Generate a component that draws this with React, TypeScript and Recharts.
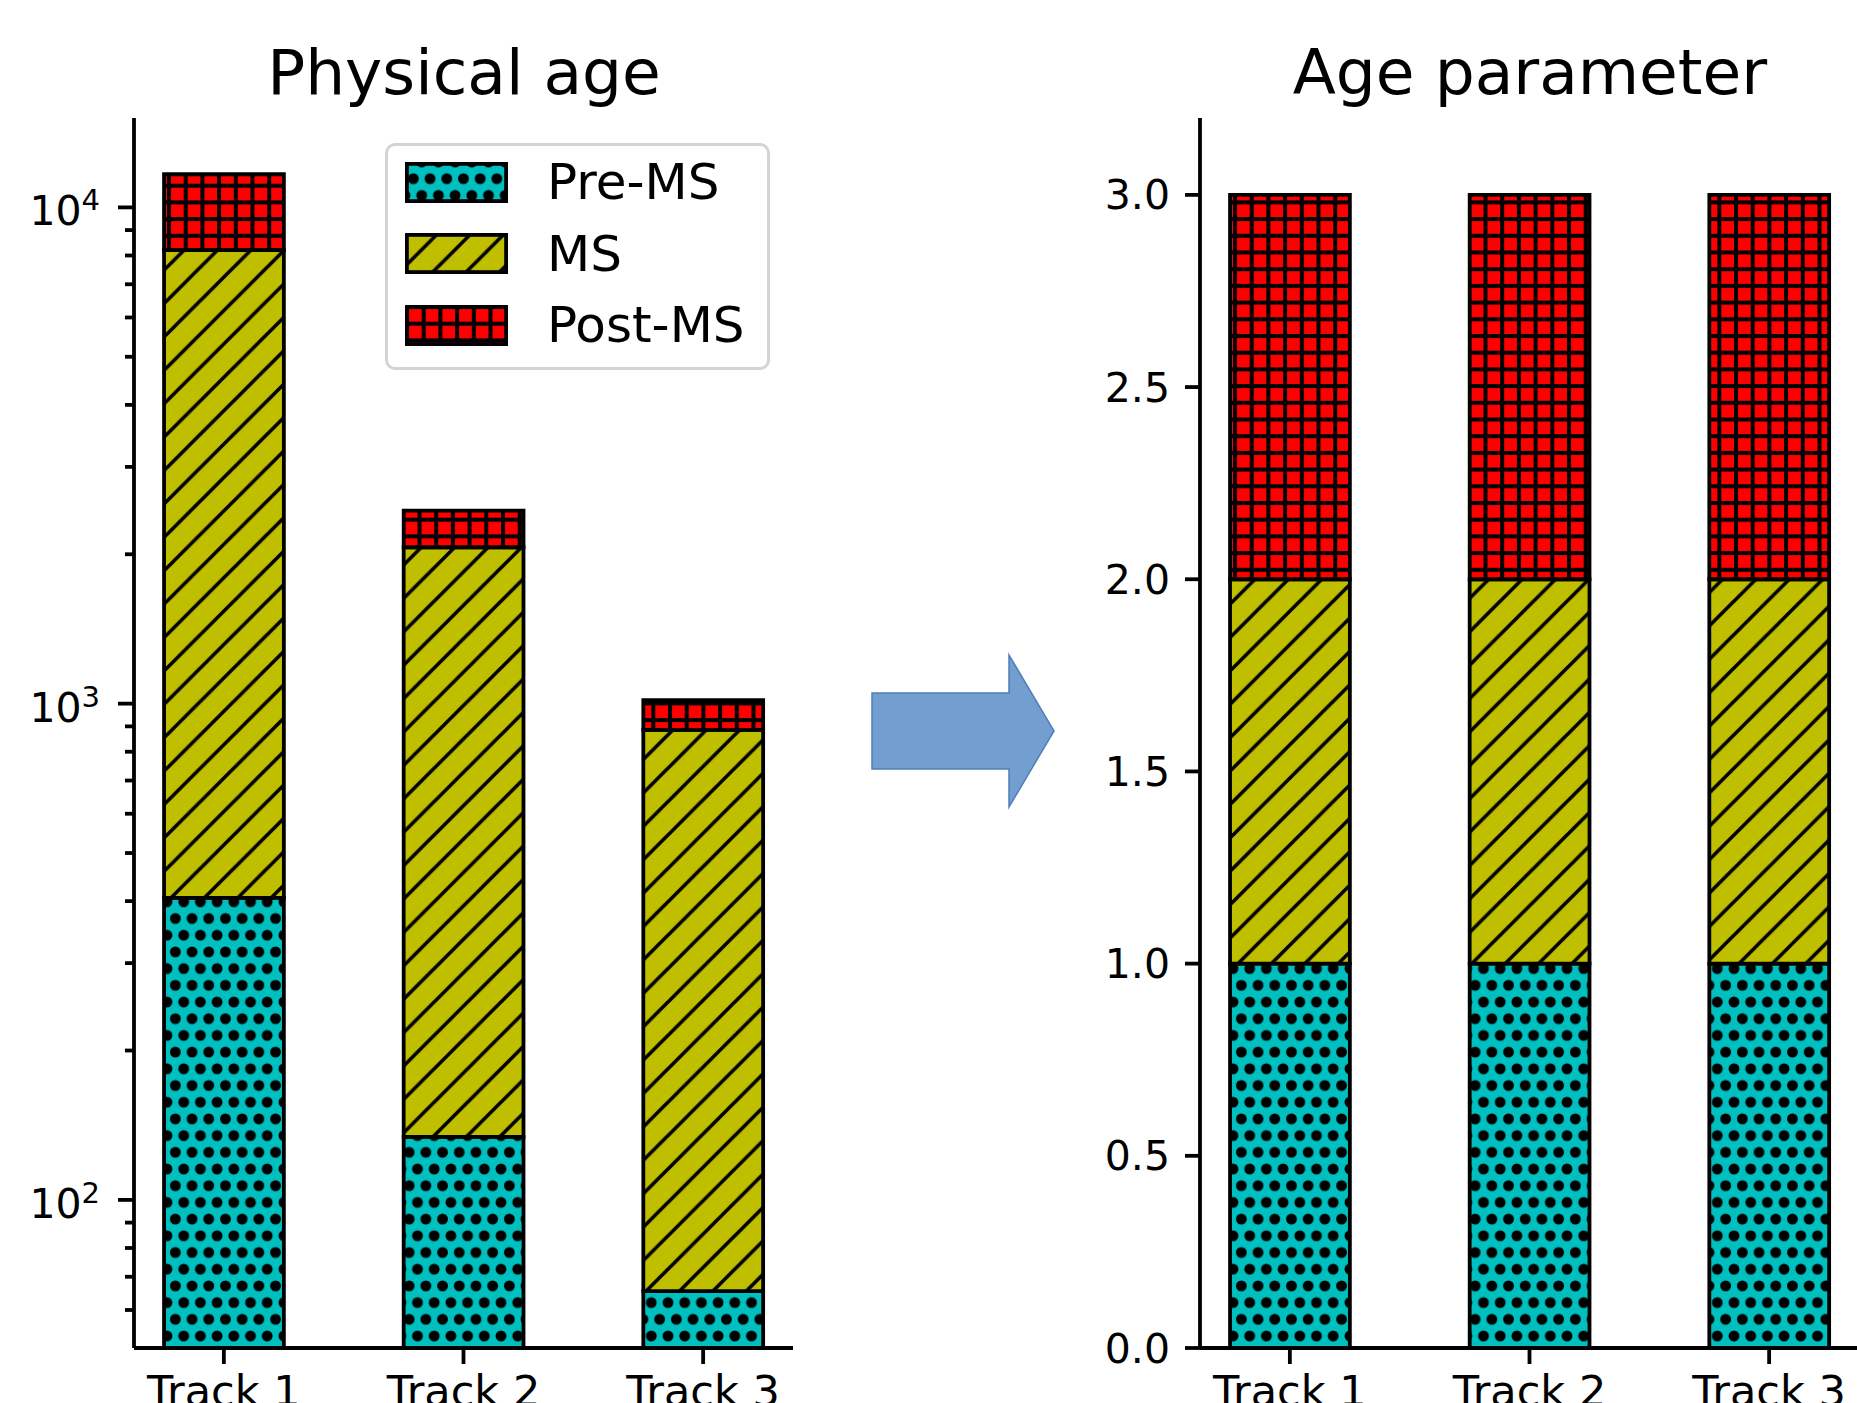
import React from "react";
import { BarChart, Bar, XAxis, YAxis, Legend } from "recharts";

const FONT = "'DejaVu Sans', sans-serif";

const categories = ["Track 1", "Track 2", "Track 3"];
const seriesNames = ["Pre-MS", "MS", "Post-MS"];

// physical age spent in each phase
const preMsAge = [406, 134, 65.5];
const msAge = [7800, 1932, 820];
const postMsAge = [3455, 383, 131];

// age parameter: one unit per phase
const preMsParam = [1, 1, 1];
const msParam = [1, 1, 1];
const postMsParam = [1, 1, 1];

const logMajorTicks = [100, 1000, 10000];
const logMinorTicks = [60, 70, 80, 90, 200, 300, 400, 500, 600, 700, 800, 900, 2000, 3000, 4000, 5000, 6000, 7000, 8000, 9000];
const paramTicks = [0, 0.5, 1, 1.5, 2, 2.5, 3];
const trackTicks = [0, 1, 2];

const logDomain = [50.3, 15140];
const paramDomain = [0, 3.2];
const xDomain = [-0.375, 2.375];

const fills = ["url(#hatch-dots)", "url(#hatch-diag)", "url(#hatch-grid)"];

// layout
const AXIS_W = 134;
const PLOT_W = 659;
const PLOT_TOP = 118;
const X_AXIS_H = 55;
const CHART_H = 1403;
const BAR_SIZE = (PLOT_W / (xDomain[1] - xDomain[0])) * 0.5;
const LW = 3.8;
const TICK_MAJOR = 16;
const TICK_MINOR = 9;
const TICK_MARGIN = 18;

const axisStyle = { stroke: "#000", strokeWidth: LW };

const physicalRows = categories.map((name, i) => ({
  x: i,
  name,
  pre: preMsAge[i],
  ms: msAge[i],
  post: postMsAge[i],
}));

const paramRows = categories.map((name, i) => ({
  x: i,
  name,
  pre: preMsParam[i],
  ms: msParam[i],
  post: postMsParam[i],
}));

function HatchDefs() {
  const d = 16.7;
  const r = 5.4;
  return (
    <svg width={0} height={0} style={{ position: "absolute" }}>
      <defs>
        <pattern id="hatch-dots" patternUnits="userSpaceOnUse" width={d} height={d * 2}>
          <rect width={d} height={d * 2} fill="#00bfbf" />
          <circle cx={0} cy={0} r={r} fill="#000" />
          <circle cx={d} cy={0} r={r} fill="#000" />
          <circle cx={0} cy={d * 2} r={r} fill="#000" />
          <circle cx={d} cy={d * 2} r={r} fill="#000" />
          <circle cx={d / 2} cy={d} r={r} fill="#000" />
        </pattern>
        <pattern id="hatch-diag" patternUnits="userSpaceOnUse" width={d * 2} height={d * 2}>
          <rect width={d * 2} height={d * 2} fill="#bfbf00" />
          <path
            d={`M0,${d * 2} L${d * 2},0 M${-d},${d} L${d},${-d} M${d},${d * 3} L${d * 3},${d}`}
            stroke="#000"
            strokeWidth={3.6}
          />
        </pattern>
        <pattern id="hatch-grid" patternUnits="userSpaceOnUse" width={d} height={d}>
          <rect width={d} height={d} fill="#ff0000" />
          <rect x={0} y={0} width={d} height={4} fill="#000" />
          <rect x={0} y={0} width={4} height={d} fill="#000" />
        </pattern>
      </defs>
    </svg>
  );
}

const LogTick = (props: any) => {
  const { x, y, payload } = props;
  const v = payload.value;
  const major = logMajorTicks.includes(v);
  const axisX = x + TICK_MARGIN + TICK_MAJOR;
  const len = major ? TICK_MAJOR : TICK_MINOR;
  return (
    <g>
      <line x1={axisX - len} x2={axisX} y1={y} y2={y} stroke="#000" strokeWidth={LW} />
      {major && (
        <text x={x} y={y + 18} textAnchor="end" fontSize={41} fill="#000" fontFamily={FONT}>
          10
          <tspan dy={-15} fontSize={29}>
            {Math.round(Math.log10(v))}
          </tspan>
        </text>
      )}
    </g>
  );
};

const renderLegend = () => (
  <div
    style={{
      width: 385,
      height: 227,
      boxSizing: "border-box",
      border: "3px solid #d4d4d4",
      borderRadius: 10,
      background: "rgba(255,255,255,0.8)",
      position: "relative",
      fontFamily: FONT,
    }}
  >
    {seriesNames.map((name, i) => (
      <div
        key={name}
        style={{ position: "absolute", left: 17, top: 15.5 + i * 71.5, height: 41, display: "flex", alignItems: "center" }}
      >
        <svg width={103} height={41} style={{ display: "block" }}>
          <rect x={LW / 2} y={LW / 2} width={103 - LW} height={41 - LW} fill={fills[i]} stroke="#000" strokeWidth={LW} />
        </svg>
        <span style={{ marginLeft: 39, fontSize: 50, lineHeight: 1, color: "#000", whiteSpace: "nowrap" }}>{name}</span>
      </div>
    ))}
  </div>
);

export default function App() {
  const leftW = AXIS_W + PLOT_W + 107;
  const rightW = AXIS_W + PLOT_W + 20;
  const xAxisProps = {
    dataKey: "x",
    type: "number" as const,
    domain: xDomain,
    allowDataOverflow: true,
    ticks: trackTicks,
    interval: 0 as const,
    tickFormatter: (v: number) => categories[v],
    height: X_AXIS_H,
    axisLine: axisStyle,
    tickLine: axisStyle,
    tickSize: TICK_MAJOR,
    tickMargin: 11,
    tick: { fill: "#000", fontSize: 43, fontFamily: FONT },
  };
  const barProps = { stackId: "a", stroke: "#000", strokeWidth: LW, barSize: BAR_SIZE, isAnimationActive: false };

  return (
    <div
      style={{
        position: "absolute",
        left: 0,
        top: 0,
        width: 1857,
        height: 1403,
        overflow: "hidden",
        background: "#fff",
        fontFamily: FONT,
      }}
    >
      <HatchDefs />
      <div style={{ position: "absolute", left: 0, top: 0 }}>
        <BarChart
          width={leftW}
          height={CHART_H}
          data={physicalRows}
          margin={{ top: PLOT_TOP, right: 107, bottom: 0, left: 0 }}
        >
          <XAxis {...xAxisProps} />
          <YAxis
            type="number"
            scale="log"
            domain={logDomain}
            allowDataOverflow
            ticks={[...logMinorTicks, ...logMajorTicks].sort((a, b) => a - b)}
            interval={0}
            width={AXIS_W}
            axisLine={axisStyle}
            tickLine={false}
            tickSize={TICK_MAJOR}
            tickMargin={TICK_MARGIN}
            tick={(p: any) => <LogTick {...p} />}
          />
          <Legend
            layout="horizontal"
            verticalAlign="middle"
            align="center"
            content={renderLegend}
            wrapperStyle={{ position: "absolute", left: 385, top: 143, width: 385, height: 227 }}
          />
          <Bar dataKey="pre" name={seriesNames[0]} fill={fills[0]} {...barProps} />
          <Bar dataKey="ms" name={seriesNames[1]} fill={fills[1]} {...barProps} />
          <Bar dataKey="post" name={seriesNames[2]} fill={fills[2]} {...barProps} />
        </BarChart>
      </div>
      <div style={{ position: "absolute", left: 1066, top: 0 }}>
        <BarChart
          width={rightW}
          height={CHART_H}
          data={paramRows}
          margin={{ top: PLOT_TOP, right: 20, bottom: 0, left: 0 }}
        >
          <XAxis {...xAxisProps} />
          <YAxis
            type="number"
            domain={paramDomain}
            allowDataOverflow
            ticks={paramTicks}
            interval={0}
            width={AXIS_W}
            axisLine={axisStyle}
            tickLine={axisStyle}
            tickSize={15}
            tickMargin={15}
            tickFormatter={(v: number) => v.toFixed(1)}
            tick={{ fill: "#000", fontSize: 41, fontFamily: FONT }}
          />
          <Bar dataKey="pre" name={seriesNames[0]} fill={fills[0]} {...barProps} />
          <Bar dataKey="ms" name={seriesNames[1]} fill={fills[1]} {...barProps} />
          <Bar dataKey="post" name={seriesNames[2]} fill={fills[2]} {...barProps} />
        </BarChart>
      </div>
      <svg
        width={1857}
        height={1403}
        style={{ position: "absolute", left: 0, top: 0, pointerEvents: "none" }}
      >
        <text x={464} y={94} textAnchor="middle" fontSize={63} fill="#000" fontFamily={FONT}>
          Physical age
        </text>
        <text x={1530} y={94} textAnchor="middle" fontSize={63} fill="#000" fontFamily={FONT}>
          Age parameter
        </text>
        <polygon
          points="872,693 1009,693 1009,655 1054,731 1009,807 1009,769 872,769"
          fill="#729fcf"
          stroke="#4f7fb8"
          strokeWidth={1.5}
        />
      </svg>
    </div>
  );
}
